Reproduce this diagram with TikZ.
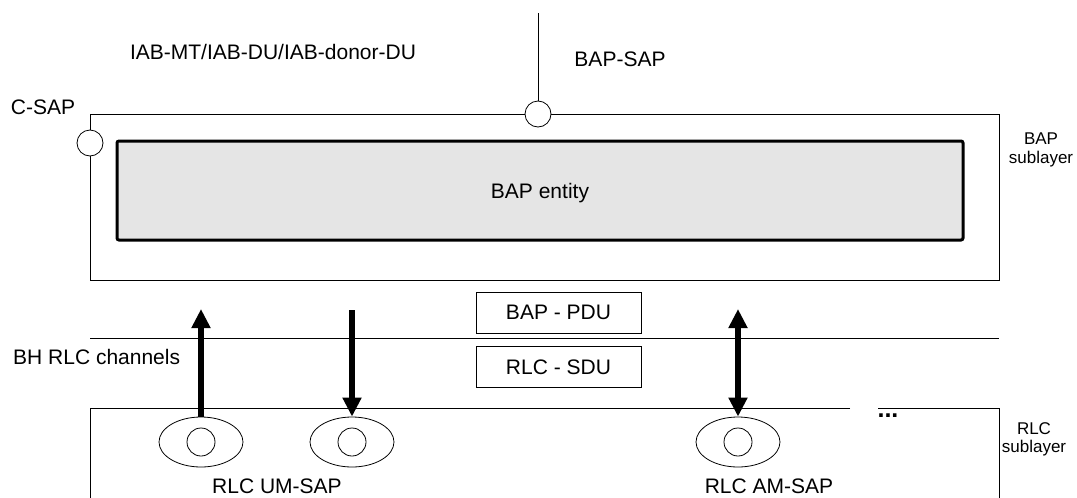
\documentclass[tikz,border=0pt]{standalone}
\usepackage{fontspec}
\setmainfont{Liberation Sans}
\usetikzlibrary{arrows.meta,shapes.geometric}
\tikzset{
  lbl/.style={inner sep=0pt, anchor=base, font=\fontsize{21}{25}\selectfont},
  small/.style={inner sep=0pt, anchor=north, align=center, font=\fontsize{17}{18.5}\selectfont},
  sap/.style={circle, draw, fill=white, minimum size=26pt, inner sep=0pt, line width=0.8pt},
  pdubox/.style={draw, fill=white, minimum width=165pt, minimum height=41pt, inner sep=0pt, line width=0.8pt, font=\fontsize{21}{25}\selectfont},
  ell/.style={ellipse, draw, minimum width=84pt, minimum height=50pt, inner sep=0pt, line width=0.8pt},
  inner/.style={circle, draw, minimum size=28pt, inner sep=0pt, line width=0.8pt},
  thin/.style={line width=0.8pt},
  bigarrow/.style={line width=5.5pt, -{Triangle[width=18pt,length=19pt]}},
  bigdarrow/.style={line width=5.5pt, {Triangle[width=18pt,length=19pt]}-{Triangle[width=18pt,length=19pt]}}
}
\begin{document}
\begin{tikzpicture}[x=1pt,y=-1pt]
\useasboundingbox (0,0) rectangle (1077,498);
% BAP sublayer box
\draw[thin] (90,114) rectangle (999,280);
\node[draw, fill=black!10, line width=3pt, rounded corners=2pt, minimum width=846pt, minimum height=99pt, inner sep=0pt] (ent) at (540,190.5) {};
\node[lbl] at (540,198) {BAP entity};
% SAPs
\coordinate (saptop) at (538,13);
\node[sap] (bapsap) at (538,114) {};
\draw[thin] (saptop) -- (bapsap.north);
\node[sap] (csap) at (90,143) {};
% top labels
\node[lbl] at (273,59) {IAB-MT/IAB-DU/IAB-donor-DU};
\node[lbl] at (620,66) {BAP-SAP};
\node[lbl] at (43,114) {C-SAP};
\node[small] at (1041,133) {BAP\\sublayer};
% middle line and boxes
\draw[thin] (90,338) -- (999,338);
\node[pdubox] (pdu) at (558.5,312.5) {BAP - PDU};
\node[pdubox] (sdu) at (558.5,367) {RLC - SDU};
\node[lbl, anchor=base west] at (13,364) {BH RLC channels};
% RLC sublayer box
\draw[thin] (850,408) -- (90,408) -- (90,499);
\draw[thin] (878,408) -- (999,408) -- (999,499);
\node[inner sep=0pt, font=\bfseries\fontsize{25}{26}\selectfont, anchor=base] at (888,417) {...};
\node[small] at (1034,422) {RLC\\sublayer};
% ellipses
\node[ell] (e1) at (201,442) {};
\node[inner] at (e1.center) {};
\node[ell] (e2) at (352,442) {};
\node[inner] at (e2.center) {};
\node[ell] (e3) at (738,442) {};
\node[inner] at (e3.center) {};
\node[lbl] at (277,493) {RLC UM-SAP};
\node[lbl] at (769,493) {RLC AM-SAP};
% arrows
\coordinate (a1) at (201,309);
\coordinate (a2) at (352,310);
\coordinate (a3) at (738,309);
\draw[bigarrow] (e1.north) -- (a1);
\draw[bigarrow] (a2) -- (e2.north);
\draw[bigdarrow] (a3) -- (e3.north);
\end{tikzpicture}
\end{document}
